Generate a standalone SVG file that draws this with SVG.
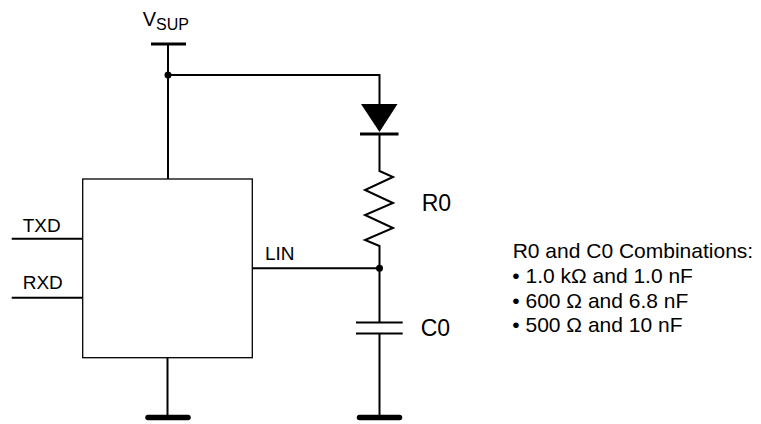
<svg xmlns="http://www.w3.org/2000/svg" width="761" height="424" viewBox="0 0 761 424">
<style>
.w{fill:none;stroke:#000;stroke-width:2;stroke-linejoin:miter}
.box{fill:#fff;stroke:#000;stroke-width:1.3}
.gnd{stroke:#000;stroke-width:5.5;stroke-linecap:round}
.bar{stroke:#000;stroke-width:3.2}
.t{font-family:"Liberation Sans",Arial,sans-serif;fill:#000}
.n{font-size:21px}
.dot{fill:#000}
</style>
<rect width="761" height="424" fill="#fff"/>
<g id="connectors">
<path class="w" d="M168,44 V179"/>
<path class="w" d="M168,75 H379.5 V104"/>
<path class="w" d="M379.5,134 V171 L393,177 L365,190 L393,203 L365,215 L393,228 L365,240 L379.5,246 V322.5"/>
<path class="w" d="M379.5,333.5 V417"/>
<path class="w" d="M252.3,268.3 H379.5"/>
<path class="w" d="M11.7,238.7 H82.7"/>
<path class="w" d="M11.7,297.7 H82.7"/>
<path class="w" d="M167.5,357.7 V417"/>
<circle class="dot" cx="168" cy="75" r="3.5"/>
<circle class="dot" cx="379.5" cy="268.3" r="3.5"/>
</g>
<g id="vsup">
<line class="bar" x1="151" y1="44" x2="186" y2="44"/>
<text class="t" x="142.7" y="26" font-size="20">V<tspan font-size="16" dy="4">SUP</tspan></text>
</g>
<g id="ic">
<rect class="box" x="82.7" y="179" width="169.6" height="178.7"/>
<text class="t" x="22.7" y="231.7" font-size="19">TXD</text>
<text class="t" x="22.7" y="289.3" font-size="19">RXD</text>
<text class="t" x="265" y="260" font-size="19">LIN</text>
</g>
<g id="diode">
<polygon points="361,104 397.5,104 379.5,132" fill="#000"/>
<line class="bar" x1="360" y1="134" x2="398.5" y2="134"/>
</g>
<g id="r0">
<text class="t" x="421.7" y="211" font-size="23">R0</text>
</g>
<g id="c0">
<line class="w" x1="356" y1="322.5" x2="402.7" y2="322.5"/>
<line class="w" x1="356" y1="333.5" x2="402.7" y2="333.5"/>
<text class="t" x="420.7" y="336" font-size="23">C0</text>
</g>
<g id="gnd1"><line class="gnd" x1="148" y1="417.5" x2="188" y2="417.5"/></g>
<g id="gnd2"><line class="gnd" x1="359.5" y1="417.5" x2="399.5" y2="417.5"/></g>
<g id="notes">
<text class="t n" x="512.7" y="257.5">R0 and C0 Combinations:</text>
<text class="t n" x="512.3" y="282.5">• 1.0 kΩ and 1.0 nF</text>
<text class="t n" x="512.3" y="307.5">• 600 Ω and 6.8 nF</text>
<text class="t n" x="512.3" y="332">• 500 Ω and 10 nF</text>
</g>
</svg>
